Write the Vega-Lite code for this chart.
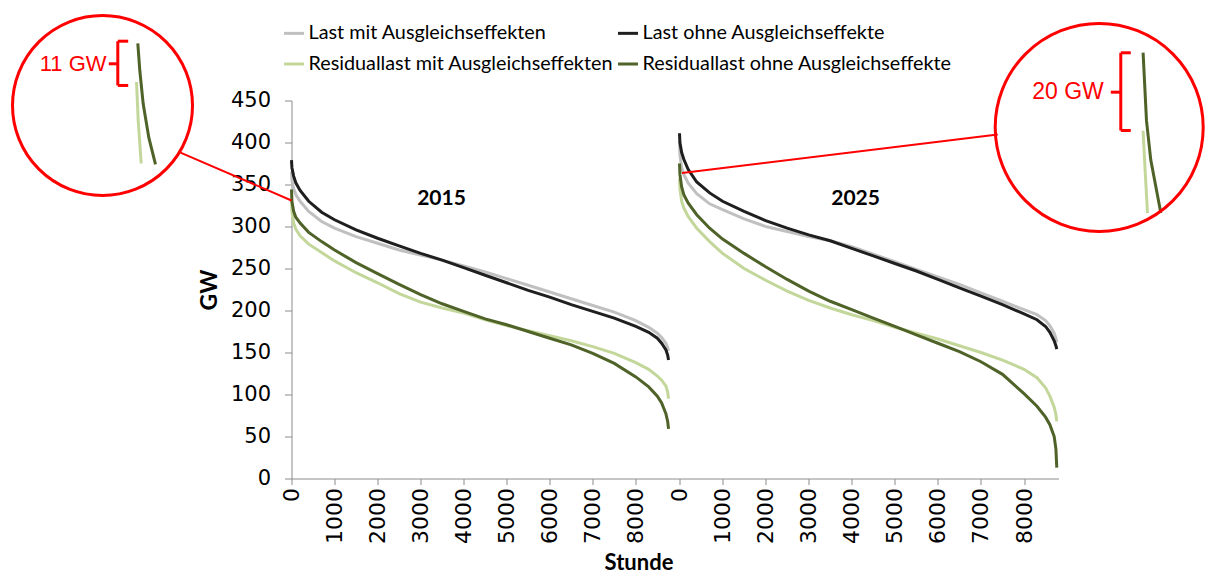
{
"$schema": "https://vega.github.io/schema/vega-lite/v6.json",
"padding": {"left": 6.5, "top": 9.5, "right": 0, "bottom": 0},
"background": "white",
"spacing": 0,
"bounds": "flush",
"datasets": {
"d2015": [
{"reihe":"Last mit Ausgleichseffekten","stunde":0,"gw":365},{"reihe":"Last mit Ausgleichseffekten","stunde":10,"gw":355},{"reihe":"Last mit Ausgleichseffekten","stunde":50,"gw":345},{"reihe":"Last mit Ausgleichseffekten","stunde":100,"gw":338},{"reihe":"Last mit Ausgleichseffekten","stunde":200,"gw":330},{"reihe":"Last mit Ausgleichseffekten","stunde":400,"gw":318},{"reihe":"Last mit Ausgleichseffekten","stunde":700,"gw":306},{"reihe":"Last mit Ausgleichseffekten","stunde":1000,"gw":298},{"reihe":"Last mit Ausgleichseffekten","stunde":1500,"gw":288},{"reihe":"Last mit Ausgleichseffekten","stunde":2000,"gw":280},{"reihe":"Last mit Ausgleichseffekten","stunde":2500,"gw":272},{"reihe":"Last mit Ausgleichseffekten","stunde":3000,"gw":266},{"reihe":"Last mit Ausgleichseffekten","stunde":3500,"gw":260},{"reihe":"Last mit Ausgleichseffekten","stunde":4000,"gw":253},{"reihe":"Last mit Ausgleichseffekten","stunde":4500,"gw":246},{"reihe":"Last mit Ausgleichseffekten","stunde":5000,"gw":238},{"reihe":"Last mit Ausgleichseffekten","stunde":5500,"gw":230},{"reihe":"Last mit Ausgleichseffekten","stunde":6000,"gw":222},{"reihe":"Last mit Ausgleichseffekten","stunde":6500,"gw":214},{"reihe":"Last mit Ausgleichseffekten","stunde":7000,"gw":206},{"reihe":"Last mit Ausgleichseffekten","stunde":7500,"gw":198},{"reihe":"Last mit Ausgleichseffekten","stunde":8000,"gw":188},{"reihe":"Last mit Ausgleichseffekten","stunde":8300,"gw":180},{"reihe":"Last mit Ausgleichseffekten","stunde":8500,"gw":173},{"reihe":"Last mit Ausgleichseffekten","stunde":8600,"gw":168},{"reihe":"Last mit Ausgleichseffekten","stunde":8700,"gw":161},{"reihe":"Last mit Ausgleichseffekten","stunde":8740,"gw":156},{"reihe":"Last mit Ausgleichseffekten","stunde":8760,"gw":152},
{"reihe":"Last ohne Ausgleichseffekte","stunde":0,"gw":379},{"reihe":"Last ohne Ausgleichseffekte","stunde":10,"gw":370},{"reihe":"Last ohne Ausgleichseffekte","stunde":50,"gw":360},{"reihe":"Last ohne Ausgleichseffekte","stunde":100,"gw":352},{"reihe":"Last ohne Ausgleichseffekte","stunde":200,"gw":343},{"reihe":"Last ohne Ausgleichseffekte","stunde":400,"gw":330},{"reihe":"Last ohne Ausgleichseffekte","stunde":700,"gw":317},{"reihe":"Last ohne Ausgleichseffekte","stunde":1000,"gw":308},{"reihe":"Last ohne Ausgleichseffekte","stunde":1500,"gw":296},{"reihe":"Last ohne Ausgleichseffekte","stunde":2000,"gw":286},{"reihe":"Last ohne Ausgleichseffekte","stunde":2500,"gw":277},{"reihe":"Last ohne Ausgleichseffekte","stunde":3000,"gw":268},{"reihe":"Last ohne Ausgleichseffekte","stunde":3500,"gw":260},{"reihe":"Last ohne Ausgleichseffekte","stunde":4000,"gw":251},{"reihe":"Last ohne Ausgleichseffekte","stunde":4500,"gw":242},{"reihe":"Last ohne Ausgleichseffekte","stunde":5000,"gw":233},{"reihe":"Last ohne Ausgleichseffekte","stunde":5500,"gw":224},{"reihe":"Last ohne Ausgleichseffekte","stunde":6000,"gw":216},{"reihe":"Last ohne Ausgleichseffekte","stunde":6500,"gw":207},{"reihe":"Last ohne Ausgleichseffekte","stunde":7000,"gw":199},{"reihe":"Last ohne Ausgleichseffekte","stunde":7500,"gw":191},{"reihe":"Last ohne Ausgleichseffekte","stunde":8000,"gw":181},{"reihe":"Last ohne Ausgleichseffekte","stunde":8300,"gw":174},{"reihe":"Last ohne Ausgleichseffekte","stunde":8500,"gw":167},{"reihe":"Last ohne Ausgleichseffekte","stunde":8600,"gw":161},{"reihe":"Last ohne Ausgleichseffekte","stunde":8700,"gw":153},{"reihe":"Last ohne Ausgleichseffekte","stunde":8740,"gw":147},{"reihe":"Last ohne Ausgleichseffekte","stunde":8760,"gw":141},
{"reihe":"Residuallast mit Ausgleichseffekten","stunde":0,"gw":331},{"reihe":"Residuallast mit Ausgleichseffekten","stunde":10,"gw":318},{"reihe":"Residuallast mit Ausgleichseffekten","stunde":50,"gw":304},{"reihe":"Residuallast mit Ausgleichseffekten","stunde":100,"gw":297},{"reihe":"Residuallast mit Ausgleichseffekten","stunde":200,"gw":289},{"reihe":"Residuallast mit Ausgleichseffekten","stunde":400,"gw":279},{"reihe":"Residuallast mit Ausgleichseffekten","stunde":700,"gw":269},{"reihe":"Residuallast mit Ausgleichseffekten","stunde":1000,"gw":259},{"reihe":"Residuallast mit Ausgleichseffekten","stunde":1500,"gw":245},{"reihe":"Residuallast mit Ausgleichseffekten","stunde":2000,"gw":233},{"reihe":"Residuallast mit Ausgleichseffekten","stunde":2500,"gw":220},{"reihe":"Residuallast mit Ausgleichseffekten","stunde":3000,"gw":210},{"reihe":"Residuallast mit Ausgleichseffekten","stunde":3500,"gw":203},{"reihe":"Residuallast mit Ausgleichseffekten","stunde":4000,"gw":197},{"reihe":"Residuallast mit Ausgleichseffekten","stunde":4500,"gw":189},{"reihe":"Residuallast mit Ausgleichseffekten","stunde":5000,"gw":182},{"reihe":"Residuallast mit Ausgleichseffekten","stunde":5500,"gw":176},{"reihe":"Residuallast mit Ausgleichseffekten","stunde":6000,"gw":170},{"reihe":"Residuallast mit Ausgleichseffekten","stunde":6500,"gw":164},{"reihe":"Residuallast mit Ausgleichseffekten","stunde":7000,"gw":157},{"reihe":"Residuallast mit Ausgleichseffekten","stunde":7500,"gw":149},{"reihe":"Residuallast mit Ausgleichseffekten","stunde":8000,"gw":138},{"reihe":"Residuallast mit Ausgleichseffekten","stunde":8300,"gw":130},{"reihe":"Residuallast mit Ausgleichseffekten","stunde":8500,"gw":122},{"reihe":"Residuallast mit Ausgleichseffekten","stunde":8600,"gw":117},{"reihe":"Residuallast mit Ausgleichseffekten","stunde":8700,"gw":110},{"reihe":"Residuallast mit Ausgleichseffekten","stunde":8740,"gw":103},{"reihe":"Residuallast mit Ausgleichseffekten","stunde":8760,"gw":95},
{"reihe":"Residuallast ohne Ausgleichseffekte","stunde":0,"gw":344},{"reihe":"Residuallast ohne Ausgleichseffekte","stunde":10,"gw":330},{"reihe":"Residuallast ohne Ausgleichseffekte","stunde":50,"gw":318},{"reihe":"Residuallast ohne Ausgleichseffekte","stunde":100,"gw":311},{"reihe":"Residuallast ohne Ausgleichseffekte","stunde":200,"gw":304},{"reihe":"Residuallast ohne Ausgleichseffekte","stunde":400,"gw":293},{"reihe":"Residuallast ohne Ausgleichseffekte","stunde":700,"gw":282},{"reihe":"Residuallast ohne Ausgleichseffekte","stunde":1000,"gw":272},{"reihe":"Residuallast ohne Ausgleichseffekte","stunde":1500,"gw":257},{"reihe":"Residuallast ohne Ausgleichseffekte","stunde":2000,"gw":244},{"reihe":"Residuallast ohne Ausgleichseffekte","stunde":2500,"gw":231},{"reihe":"Residuallast ohne Ausgleichseffekte","stunde":3000,"gw":219},{"reihe":"Residuallast ohne Ausgleichseffekte","stunde":3500,"gw":208},{"reihe":"Residuallast ohne Ausgleichseffekte","stunde":4000,"gw":199},{"reihe":"Residuallast ohne Ausgleichseffekte","stunde":4500,"gw":190},{"reihe":"Residuallast ohne Ausgleichseffekte","stunde":5000,"gw":183},{"reihe":"Residuallast ohne Ausgleichseffekte","stunde":5500,"gw":175},{"reihe":"Residuallast ohne Ausgleichseffekte","stunde":6000,"gw":167},{"reihe":"Residuallast ohne Ausgleichseffekte","stunde":6500,"gw":159},{"reihe":"Residuallast ohne Ausgleichseffekte","stunde":7000,"gw":149},{"reihe":"Residuallast ohne Ausgleichseffekte","stunde":7500,"gw":137},{"reihe":"Residuallast ohne Ausgleichseffekte","stunde":8000,"gw":121},{"reihe":"Residuallast ohne Ausgleichseffekte","stunde":8300,"gw":109},{"reihe":"Residuallast ohne Ausgleichseffekte","stunde":8500,"gw":98},{"reihe":"Residuallast ohne Ausgleichseffekte","stunde":8600,"gw":90},{"reihe":"Residuallast ohne Ausgleichseffekte","stunde":8700,"gw":77},{"reihe":"Residuallast ohne Ausgleichseffekte","stunde":8740,"gw":68},{"reihe":"Residuallast ohne Ausgleichseffekte","stunde":8760,"gw":59}
],
"d2025": [
{"reihe":"Last mit Ausgleichseffekten","stunde":0,"gw":402},{"reihe":"Last mit Ausgleichseffekten","stunde":10,"gw":385},{"reihe":"Last mit Ausgleichseffekten","stunde":50,"gw":370},{"reihe":"Last mit Ausgleichseffekten","stunde":100,"gw":362},{"reihe":"Last mit Ausgleichseffekten","stunde":200,"gw":352},{"reihe":"Last mit Ausgleichseffekten","stunde":400,"gw":339},{"reihe":"Last mit Ausgleichseffekten","stunde":700,"gw":327},{"reihe":"Last mit Ausgleichseffekten","stunde":1000,"gw":320},{"reihe":"Last mit Ausgleichseffekten","stunde":1500,"gw":309},{"reihe":"Last mit Ausgleichseffekten","stunde":2000,"gw":300},{"reihe":"Last mit Ausgleichseffekten","stunde":2500,"gw":294},{"reihe":"Last mit Ausgleichseffekten","stunde":3000,"gw":288},{"reihe":"Last mit Ausgleichseffekten","stunde":3500,"gw":283},{"reihe":"Last mit Ausgleichseffekten","stunde":4000,"gw":276},{"reihe":"Last mit Ausgleichseffekten","stunde":4500,"gw":267},{"reihe":"Last mit Ausgleichseffekten","stunde":5000,"gw":258},{"reihe":"Last mit Ausgleichseffekten","stunde":5500,"gw":249},{"reihe":"Last mit Ausgleichseffekten","stunde":6000,"gw":240},{"reihe":"Last mit Ausgleichseffekten","stunde":6500,"gw":231},{"reihe":"Last mit Ausgleichseffekten","stunde":7000,"gw":221},{"reihe":"Last mit Ausgleichseffekten","stunde":7500,"gw":211},{"reihe":"Last mit Ausgleichseffekten","stunde":8000,"gw":201},{"reihe":"Last mit Ausgleichseffekten","stunde":8300,"gw":195},{"reihe":"Last mit Ausgleichseffekten","stunde":8500,"gw":188},{"reihe":"Last mit Ausgleichseffekten","stunde":8600,"gw":182},{"reihe":"Last mit Ausgleichseffekten","stunde":8700,"gw":173},{"reihe":"Last mit Ausgleichseffekten","stunde":8740,"gw":167},{"reihe":"Last mit Ausgleichseffekten","stunde":8760,"gw":162},
{"reihe":"Last ohne Ausgleichseffekte","stunde":0,"gw":411},{"reihe":"Last ohne Ausgleichseffekte","stunde":10,"gw":400},{"reihe":"Last ohne Ausgleichseffekte","stunde":50,"gw":388},{"reihe":"Last ohne Ausgleichseffekte","stunde":100,"gw":380},{"reihe":"Last ohne Ausgleichseffekte","stunde":200,"gw":368},{"reihe":"Last ohne Ausgleichseffekte","stunde":400,"gw":353},{"reihe":"Last ohne Ausgleichseffekte","stunde":700,"gw":340},{"reihe":"Last ohne Ausgleichseffekte","stunde":1000,"gw":330},{"reihe":"Last ohne Ausgleichseffekte","stunde":1500,"gw":318},{"reihe":"Last ohne Ausgleichseffekte","stunde":2000,"gw":307},{"reihe":"Last ohne Ausgleichseffekte","stunde":2500,"gw":298},{"reihe":"Last ohne Ausgleichseffekte","stunde":3000,"gw":290},{"reihe":"Last ohne Ausgleichseffekte","stunde":3500,"gw":283},{"reihe":"Last ohne Ausgleichseffekte","stunde":4000,"gw":274},{"reihe":"Last ohne Ausgleichseffekte","stunde":4500,"gw":265},{"reihe":"Last ohne Ausgleichseffekte","stunde":5000,"gw":256},{"reihe":"Last ohne Ausgleichseffekte","stunde":5500,"gw":247},{"reihe":"Last ohne Ausgleichseffekte","stunde":6000,"gw":237},{"reihe":"Last ohne Ausgleichseffekte","stunde":6500,"gw":227},{"reihe":"Last ohne Ausgleichseffekte","stunde":7000,"gw":217},{"reihe":"Last ohne Ausgleichseffekte","stunde":7500,"gw":207},{"reihe":"Last ohne Ausgleichseffekte","stunde":8000,"gw":196},{"reihe":"Last ohne Ausgleichseffekte","stunde":8300,"gw":189},{"reihe":"Last ohne Ausgleichseffekte","stunde":8500,"gw":181},{"reihe":"Last ohne Ausgleichseffekte","stunde":8600,"gw":174},{"reihe":"Last ohne Ausgleichseffekte","stunde":8700,"gw":164},{"reihe":"Last ohne Ausgleichseffekte","stunde":8740,"gw":158},{"reihe":"Last ohne Ausgleichseffekte","stunde":8760,"gw":154},
{"reihe":"Residuallast mit Ausgleichseffekten","stunde":0,"gw":357},{"reihe":"Residuallast mit Ausgleichseffekten","stunde":10,"gw":345},{"reihe":"Residuallast mit Ausgleichseffekten","stunde":50,"gw":330},{"reihe":"Residuallast mit Ausgleichseffekten","stunde":100,"gw":322},{"reihe":"Residuallast mit Ausgleichseffekten","stunde":200,"gw":312},{"reihe":"Residuallast mit Ausgleichseffekten","stunde":400,"gw":298},{"reihe":"Residuallast mit Ausgleichseffekten","stunde":700,"gw":282},{"reihe":"Residuallast mit Ausgleichseffekten","stunde":1000,"gw":268},{"reihe":"Residuallast mit Ausgleichseffekten","stunde":1500,"gw":250},{"reihe":"Residuallast mit Ausgleichseffekten","stunde":2000,"gw":236},{"reihe":"Residuallast mit Ausgleichseffekten","stunde":2500,"gw":223},{"reihe":"Residuallast mit Ausgleichseffekten","stunde":3000,"gw":212},{"reihe":"Residuallast mit Ausgleichseffekten","stunde":3500,"gw":203},{"reihe":"Residuallast mit Ausgleichseffekten","stunde":4000,"gw":195},{"reihe":"Residuallast mit Ausgleichseffekten","stunde":4500,"gw":188},{"reihe":"Residuallast mit Ausgleichseffekten","stunde":5000,"gw":180},{"reihe":"Residuallast mit Ausgleichseffekten","stunde":5500,"gw":173},{"reihe":"Residuallast mit Ausgleichseffekten","stunde":6000,"gw":166},{"reihe":"Residuallast mit Ausgleichseffekten","stunde":6500,"gw":158},{"reihe":"Residuallast mit Ausgleichseffekten","stunde":7000,"gw":150},{"reihe":"Residuallast mit Ausgleichseffekten","stunde":7500,"gw":141},{"reihe":"Residuallast mit Ausgleichseffekten","stunde":8000,"gw":130},{"reihe":"Residuallast mit Ausgleichseffekten","stunde":8300,"gw":120},{"reihe":"Residuallast mit Ausgleichseffekten","stunde":8500,"gw":108},{"reihe":"Residuallast mit Ausgleichseffekten","stunde":8600,"gw":98},{"reihe":"Residuallast mit Ausgleichseffekten","stunde":8700,"gw":85},{"reihe":"Residuallast mit Ausgleichseffekten","stunde":8740,"gw":76},{"reihe":"Residuallast mit Ausgleichseffekten","stunde":8760,"gw":68},
{"reihe":"Residuallast ohne Ausgleichseffekte","stunde":0,"gw":375},{"reihe":"Residuallast ohne Ausgleichseffekte","stunde":10,"gw":362},{"reihe":"Residuallast ohne Ausgleichseffekte","stunde":50,"gw":347},{"reihe":"Residuallast ohne Ausgleichseffekte","stunde":100,"gw":338},{"reihe":"Residuallast ohne Ausgleichseffekte","stunde":200,"gw":328},{"reihe":"Residuallast ohne Ausgleichseffekte","stunde":400,"gw":314},{"reihe":"Residuallast ohne Ausgleichseffekte","stunde":700,"gw":298},{"reihe":"Residuallast ohne Ausgleichseffekte","stunde":1000,"gw":285},{"reihe":"Residuallast ohne Ausgleichseffekte","stunde":1500,"gw":268},{"reihe":"Residuallast ohne Ausgleichseffekte","stunde":2000,"gw":252},{"reihe":"Residuallast ohne Ausgleichseffekte","stunde":2500,"gw":237},{"reihe":"Residuallast ohne Ausgleichseffekte","stunde":3000,"gw":223},{"reihe":"Residuallast ohne Ausgleichseffekte","stunde":3500,"gw":211},{"reihe":"Residuallast ohne Ausgleichseffekte","stunde":4000,"gw":201},{"reihe":"Residuallast ohne Ausgleichseffekte","stunde":4500,"gw":191},{"reihe":"Residuallast ohne Ausgleichseffekte","stunde":5000,"gw":181},{"reihe":"Residuallast ohne Ausgleichseffekte","stunde":5500,"gw":171},{"reihe":"Residuallast ohne Ausgleichseffekte","stunde":6000,"gw":161},{"reihe":"Residuallast ohne Ausgleichseffekte","stunde":6500,"gw":151},{"reihe":"Residuallast ohne Ausgleichseffekte","stunde":7000,"gw":139},{"reihe":"Residuallast ohne Ausgleichseffekte","stunde":7500,"gw":124},{"reihe":"Residuallast ohne Ausgleichseffekte","stunde":8000,"gw":101},{"reihe":"Residuallast ohne Ausgleichseffekte","stunde":8300,"gw":86},{"reihe":"Residuallast ohne Ausgleichseffekte","stunde":8500,"gw":73},{"reihe":"Residuallast ohne Ausgleichseffekte","stunde":8600,"gw":64},{"reihe":"Residuallast ohne Ausgleichseffekte","stunde":8700,"gw":50},{"reihe":"Residuallast ohne Ausgleichseffekte","stunde":8740,"gw":35},{"reihe":"Residuallast ohne Ausgleichseffekte","stunde":8760,"gw":13}
],
"lupe2015": [
{"reihe":"Residuallast ohne Ausgleichseffekte","stunde":-3571,"gw":518},{"reihe":"Residuallast ohne Ausgleichseffekte","stunde":-3525,"gw":486},{"reihe":"Residuallast ohne Ausgleichseffekte","stunde":-3446,"gw":446},{"reihe":"Residuallast ohne Ausgleichseffekte","stunde":-3316,"gw":406},{"reihe":"Residuallast ohne Ausgleichseffekte","stunde":-3160,"gw":374},
{"reihe":"Residuallast mit Ausgleichseffekten","stunde":-3601,"gw":472},{"reihe":"Residuallast mit Ausgleichseffekten","stunde":-3562,"gw":426},{"reihe":"Residuallast mit Ausgleichseffekten","stunde":-3492,"gw":375}
],
"lupe2025": [
{"reihe":"Residuallast ohne Ausgleichseffekte","stunde":10764,"gw":507},{"reihe":"Residuallast ohne Ausgleichseffekte","stunde":10804,"gw":466},{"reihe":"Residuallast ohne Ausgleichseffekte","stunde":10843,"gw":426},{"reihe":"Residuallast ohne Ausgleichseffekte","stunde":10943,"gw":379},{"reihe":"Residuallast ohne Ausgleichseffekte","stunde":11176,"gw":316},
{"reihe":"Residuallast mit Ausgleichseffekten","stunde":10764,"gw":414},{"reihe":"Residuallast mit Ausgleichseffekten","stunde":10811,"gw":367},{"reihe":"Residuallast mit Ausgleichseffekten","stunde":10867,"gw":316}
]
},
"hconcat": [
{
"width": 388, "height": 378,
"layer": [
{"data": {"name": "d2015"}, "mark": {"type": "line", "strokeWidth": 3},
 "encoding": {
  "x": {"field": "stunde", "type": "quantitative", "scale": {"domain": [0, 9015], "nice": false, "zero": false},
        "axis": {"values": [0,1000,2000,3000,4000,5000,6000,7000,8000], "format": "d", "labelAngle": -90, "title": "Stunde", "titleX": 347, "titleY": 84, "titleAlign": "center", "titleBaseline": "middle", "titleAnchor": null, "titleFont": "Lato", "titleFontSize": 22, "titleFontWeight": "bold", "titleColor": "black", "labelFont": "DejaVu Sans", "labelFontSize": 22, "labelColor": "black", "tickSize": 6, "labelPadding": 3, "domainColor": "#8c8c8c", "tickColor": "#8c8c8c", "labelOverlap": false, "labelFlush": false}},
  "y": {"field": "gw", "type": "quantitative", "scale": {"domain": [0, 450], "nice": false},
        "axis": {"values": [0,50,100,150,200,250,300,350,400,450], "title": "GW", "labelFont": "DejaVu Sans", "labelFontSize": 21, "labelColor": "black", "tickSize": 7, "labelPadding": 14, "domainColor": "#8c8c8c", "tickColor": "#8c8c8c", "titleFont": "Lato", "titleFontSize": 23, "titleFontWeight": "bold", "titleColor": "black", "titlePadding": 9}},
  "color": {"field": "reihe", "type": "nominal", "legend": {"title": null},
        "scale": {"domain": ["Last mit Ausgleichseffekten", "Residuallast mit Ausgleichseffekten", "Last ohne Ausgleichseffekte", "Residuallast ohne Ausgleichseffekte"], "range": ["#c0c0c0", "#c4d79b", "#1f1f1f", "#4f6228"]}}
 }},
{"data": {"name": "lupe2015"}, "mark": {"type": "line", "strokeWidth": 3},
 "encoding": {"x": {"field": "stunde", "type": "quantitative"}, "y": {"field": "gw", "type": "quantitative"}, "color": {"field": "reihe", "type": "nominal", "legend": {"title": null}}}},
{"data": {"values": [{}]}, "mark": {"type": "text", "text": "2015", "font": "Lato", "fontSize": 21, "fontWeight": "bold", "color": "black"},
 "encoding": {"x": {"datum": 3485}, "y": {"datum": 333}}},
{"data": {"values": [{}]}, "mark": {"type": "point", "shape": "circle", "size": 32400, "filled": false, "stroke": "#ff0000", "strokeWidth": 3, "opacity": 1},
 "encoding": {"x": {"datum": -4391}, "y": {"datum": 444}}},
{"data": {"values": [{}]}, "mark": {"type": "rule", "color": "#ff0000", "strokeWidth": 2},
 "encoding": {"x": {"datum": -2579}, "y": {"datum": 388}, "x2": {"datum": 0}, "y2": {"datum": 331}}},
{"data": {"values": [{}]}, "mark": {"type": "rule", "color": "#ff0000", "strokeWidth": 3},
 "encoding": {"x": {"datum": -4036}, "y": {"datum": 520.6}, "x2": {"datum": -4036}, "y2": {"datum": 467.9}}},
{"data": {"values": [{}]}, "mark": {"type": "rule", "color": "#ff0000", "strokeWidth": 3},
 "encoding": {"x": {"datum": -4036}, "y": {"datum": 520.6}, "x2": {"datum": -3794}, "y2": {"datum": 520.6}}},
{"data": {"values": [{}]}, "mark": {"type": "rule", "color": "#ff0000", "strokeWidth": 3},
 "encoding": {"x": {"datum": -4036}, "y": {"datum": 467.9}, "x2": {"datum": -3794}, "y2": {"datum": 467.9}}},
{"data": {"values": [{}]}, "mark": {"type": "rule", "color": "#ff0000", "strokeWidth": 3},
 "encoding": {"x": {"datum": -4245}, "y": {"datum": 493.7}, "x2": {"datum": -4036}, "y2": {"datum": 493.7}}},
{"data": {"values": [{}]}, "mark": {"type": "text", "text": "11 GW", "font": "Liberation Sans", "fontSize": 22, "color": "#ff0000", "align": "right", "baseline": "middle"},
 "encoding": {"x": {"datum": -4298}, "y": {"datum": 493.7}}}
]
},
{
"width": 379, "height": 378,
"layer": [
{"data": {"name": "d2025"}, "mark": {"type": "line", "strokeWidth": 3},
 "encoding": {
  "x": {"field": "stunde", "type": "quantitative", "scale": {"domain": [0, 8800], "nice": false, "zero": false},
        "axis": {"values": [0,1000,2000,3000,4000,5000,6000,7000,8000], "format": "d", "labelAngle": -90, "title": null, "labelFont": "DejaVu Sans", "labelFontSize": 22, "labelColor": "black", "tickSize": 6, "labelPadding": 3, "domainColor": "#8c8c8c", "tickColor": "#8c8c8c", "labelOverlap": false, "labelFlush": false}},
  "y": {"field": "gw", "type": "quantitative", "scale": {"domain": [0, 450], "nice": false}, "axis": null},
  "color": {"field": "reihe", "type": "nominal", "legend": {"title": null}}
 }},
{"data": {"name": "lupe2025"}, "mark": {"type": "line", "strokeWidth": 3},
 "encoding": {"x": {"field": "stunde", "type": "quantitative"}, "y": {"field": "gw", "type": "quantitative"}, "color": {"field": "reihe", "type": "nominal", "legend": {"title": null}}}},
{"data": {"values": [{}]}, "mark": {"type": "text", "text": "2025", "font": "Lato", "fontSize": 21, "fontWeight": "bold", "color": "black"},
 "encoding": {"x": {"datum": 4089}, "y": {"datum": 333}}},
{"data": {"values": [{}]}, "mark": {"type": "point", "shape": "circle", "size": 43264, "filled": false, "stroke": "#ff0000", "strokeWidth": 3, "opacity": 1},
 "encoding": {"x": {"datum": 9745}, "y": {"datum": 418}}},
{"data": {"values": [{}]}, "mark": {"type": "rule", "color": "#ff0000", "strokeWidth": 2},
 "encoding": {"x": {"datum": 58}, "y": {"datum": 363.7}, "x2": {"datum": 7390}, "y2": {"datum": 409.5}}},
{"data": {"values": [{}]}, "mark": {"type": "rule", "color": "#ff0000", "strokeWidth": 3},
 "encoding": {"x": {"datum": 10246}, "y": {"datum": 506.8}, "x2": {"datum": 10246}, "y2": {"datum": 414.3}}},
{"data": {"values": [{}]}, "mark": {"type": "rule", "color": "#ff0000", "strokeWidth": 3},
 "encoding": {"x": {"datum": 10246}, "y": {"datum": 506.8}, "x2": {"datum": 10478}, "y2": {"datum": 506.8}}},
{"data": {"values": [{}]}, "mark": {"type": "rule", "color": "#ff0000", "strokeWidth": 3},
 "encoding": {"x": {"datum": 10246}, "y": {"datum": 414.3}, "x2": {"datum": 10478}, "y2": {"datum": 414.3}}},
{"data": {"values": [{}]}, "mark": {"type": "rule", "color": "#ff0000", "strokeWidth": 3},
 "encoding": {"x": {"datum": 10014}, "y": {"datum": 459.9}, "x2": {"datum": 10246}, "y2": {"datum": 459.9}}},
{"data": {"values": [{}]}, "mark": {"type": "text", "text": "20 GW", "font": "Liberation Sans", "fontSize": 23, "color": "#ff0000", "align": "right", "baseline": "middle"},
 "encoding": {"x": {"datum": 9852}, "y": {"datum": 459.9}}}
]
}
],
"config": {
 "view": {"stroke": null},
 "axis": {"grid": false},
 "legend": {"orient": "none", "legendX": -9, "legendY": -79, "columns": 2, "symbolType": "stroke", "symbolStrokeWidth": 3, "symbolSize": 400, "labelFont": "Lato", "labelFontSize": 19.8, "labelColor": "black", "rowPadding": 9, "columnPadding": -2, "labelOffset": 3, "padding": 0, "labelLimit": 500}
}
}
